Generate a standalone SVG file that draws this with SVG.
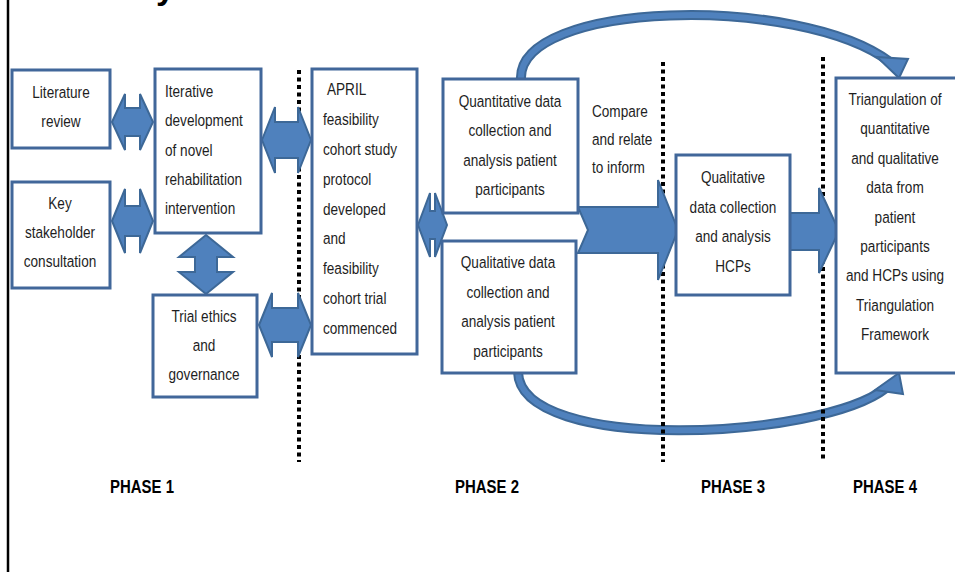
<svg xmlns="http://www.w3.org/2000/svg" width="955" height="572" viewBox="0 0 955 572">
<style>
.bx{fill:#fff;stroke:#41679A;stroke-width:3}
.ar{fill:#4F81BD;stroke:#3D6897;stroke-width:2;stroke-linejoin:miter}
.co{fill:none;stroke:#3D6897;stroke-width:10}
.ci{fill:none;stroke:#4F81BD;stroke-width:6}
.dl{stroke:#000;stroke-width:4;stroke-dasharray:4 3.5}
.t{font-family:"Liberation Sans",Arial,sans-serif;font-size:17px;fill:#1e1e1e}
.c{text-anchor:middle}
.p{font-family:"Liberation Sans",Arial,sans-serif;font-size:18px;font-weight:bold;fill:#000;text-anchor:middle}
</style>
<rect x="0" y="0" width="955" height="572" fill="#fff"/>
<line x1="8" y1="0" x2="8" y2="572" stroke="#000" stroke-width="2.5"/>
<text x="156" y="-1" font-family="Liberation Sans, Arial, sans-serif" font-weight="bold" font-size="34" fill="#000">y</text>

<g id="connectors">
  <path class="co" d="M 521 80 C 516 0, 800 -6, 890 62"/>
  <path class="ci" d="M 521 80 C 516 0, 800 -6, 890 62"/>
  <polygon class="ar" points="877,57 908,59 899,78"/>
  <path class="co" d="M 518 372 C 520 454, 820 440, 886 388"/>
  <path class="ci" d="M 518 372 C 520 454, 820 440, 886 388"/>
  <polygon class="ar" points="875,390 903,394 899,373"/>
  <g id="dividers">
    <line class="dl" x1="299" y1="70" x2="299" y2="462"/>
    <line class="dl" x1="663" y1="62" x2="663" y2="462"/>
    <line class="dl" x1="823" y1="57" x2="823" y2="462"/>
  </g>
  <polygon class="ar" points="112,122 125,94 125,108 140,108 140,94 153,122 140,150 140,136 125,136 125,150"/>
  <polygon class="ar" points="112,221 125,189 125,206 140,206 140,189 153,221 140,253 140,236 125,236 125,253"/>
  <polygon class="ar" points="206,235 233,257 217,257 217,272 233,272 206,294 179,272 195,272 195,257 179,257"/>
  <polygon class="ar" points="262,140 275,107 275,122 298,122 298,107 311,140 298,173 298,158 275,158 275,173"/>
  <polygon class="ar" points="259,325 272,293 272,308 298,308 298,293 311,325 298,357 298,342 272,342 272,357"/>
  <polygon class="ar" points="418,225 430,193 430,211 435,211 435,193 447,225 435,257 435,239 430,239 430,257"/>
  <polygon class="ar" points="578,207 658,207 658,180 678,230 658,280 658,253 578,253 588,230"/>
  <polygon class="ar" points="790,213 819,213 819,188 839,231 819,273 819,250 790,250"/>
</g>

<g id="literature">
  <rect class="bx" x="12" y="70" width="98" height="78"/>
  <text class="t c" transform="translate(61,98) scale(0.8,1)"><tspan x="0">Literature</tspan><tspan x="0" dy="29">review</tspan></text>
</g>
<g id="stakeholder">
  <rect class="bx" x="12" y="182" width="98" height="106"/>
  <text class="t c" transform="translate(60,209) scale(0.8,1)"><tspan x="0">Key</tspan><tspan x="0" dy="29">stakeholder</tspan><tspan x="0" dy="29">consultation</tspan></text>
</g>
<g id="iterative">
  <rect class="bx" x="155" y="69" width="106" height="164"/>
  <text class="t" transform="translate(165,97) scale(0.8,1)"><tspan x="0">Iterative</tspan><tspan x="0" dy="29.3">development</tspan><tspan x="0" dy="29.3">of novel</tspan><tspan x="0" dy="29.3">rehabilitation</tspan><tspan x="0" dy="29.3">intervention</tspan></text>
</g>
<g id="ethics">
  <rect class="bx" x="153" y="295" width="104" height="102"/>
  <text class="t c" transform="translate(204,322) scale(0.8,1)"><tspan x="0">Trial ethics</tspan><tspan x="0" dy="29">and</tspan><tspan x="0" dy="29">governance</tspan></text>
</g>
<g id="april">
  <rect class="bx" x="312" y="69" width="105" height="285"/>
  <text class="t" transform="translate(323,95) scale(0.8,1)"><tspan x="5">APRIL</tspan><tspan x="0" dy="29.9">feasibility</tspan><tspan x="0" dy="29.9">cohort study</tspan><tspan x="0" dy="29.9">protocol</tspan><tspan x="0" dy="29.9">developed</tspan><tspan x="0" dy="29.9">and</tspan><tspan x="0" dy="29.9">feasibility</tspan><tspan x="0" dy="29.9">cohort trial</tspan><tspan x="0" dy="29.9">commenced</tspan></text>
</g>
<g id="quantitative">
  <rect class="bx" x="443" y="79" width="135" height="134"/>
  <text class="t c" transform="translate(510,107) scale(0.8,1)"><tspan x="0">Quantitative data</tspan><tspan x="0" dy="29.5">collection and</tspan><tspan x="0" dy="29.5">analysis patient</tspan><tspan x="0" dy="29.5">participants</tspan></text>
</g>
<g id="qualitative-patients">
  <rect class="bx" x="442" y="241" width="134" height="132"/>
  <text class="t c" transform="translate(508,268) scale(0.8,1)"><tspan x="0">Qualitative data</tspan><tspan x="0" dy="29.7">collection and</tspan><tspan x="0" dy="29.7">analysis patient</tspan><tspan x="0" dy="29.7">participants</tspan></text>
</g>
<g id="compare-label">
  <text class="t" transform="translate(592,117) scale(0.8,1)"><tspan x="0">Compare</tspan><tspan x="0" dy="28">and relate</tspan><tspan x="0" dy="28">to inform</tspan></text>
</g>
<g id="qualitative-hcps">
  <rect class="bx" x="676" y="155" width="114" height="140"/>
  <text class="t c" transform="translate(733,183) scale(0.8,1)"><tspan x="0">Qualitative</tspan><tspan x="0" dy="29.7">data collection</tspan><tspan x="0" dy="29.7">and analysis</tspan><tspan x="0" dy="29.7">HCPs</tspan></text>
</g>
<g id="triangulation">
  <rect class="bx" x="836" y="78" width="126" height="295"/>
  <text class="t c" transform="translate(895,105) scale(0.8,1)"><tspan x="0">Triangulation of</tspan><tspan x="0" dy="29.4">quantitative</tspan><tspan x="0" dy="29.4">and qualitative</tspan><tspan x="0" dy="29.4">data from</tspan><tspan x="0" dy="29.4">patient</tspan><tspan x="0" dy="29.4">participants</tspan><tspan x="0" dy="29.4">and HCPs using</tspan><tspan x="0" dy="29.4">Triangulation</tspan><tspan x="0" dy="29.4">Framework</tspan></text>
</g>

<g id="phases">
  <text class="p" transform="translate(142,493) scale(0.83,1)">PHASE 1</text>
  <text class="p" transform="translate(487,493) scale(0.83,1)">PHASE 2</text>
  <text class="p" transform="translate(733,493) scale(0.83,1)">PHASE 3</text>
  <text class="p" transform="translate(885,493) scale(0.83,1)">PHASE 4</text>
</g>
</svg>
